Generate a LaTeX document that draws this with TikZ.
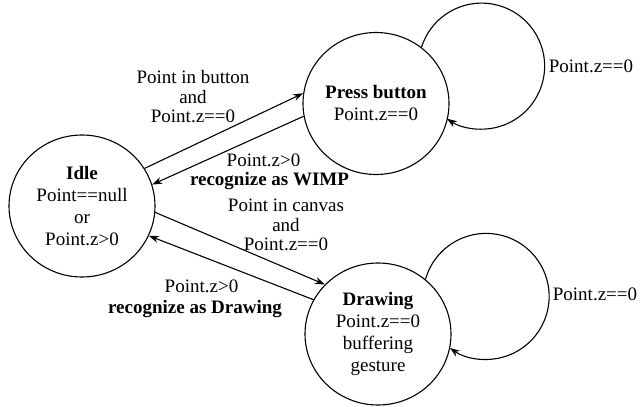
\documentclass[tikz,border=0pt]{standalone}
\usepackage{fontspec}
\setmainfont{Liberation Serif}
\usetikzlibrary{shapes.geometric,arrows.meta}
\begin{document}
\begin{tikzpicture}[x=1pt,y=-1pt,
  state/.style={draw, line width=1.1pt, ellipse, minimum width=146pt, minimum height=142pt, inner sep=0pt, align=center,
    font=\fontsize{19}{22}\selectfont},
  lbl/.style={align=center, inner sep=0pt, font=\fontsize{19}{19.5}\selectfont},
  conn/.style={line width=1.1pt, -{Stealth[length=10pt,width=7pt]}}]
\useasboundingbox (0,0) rectangle (641,407);
\node[state] (idle) at (82,206) {\textbf{Idle}\\Point==null\\or\\Point.z>0};
\node[state] (pb) at (376,103.5) {\textbf{Press button}\\Point.z==0};
\node[state] (dr) at (378,334) {\textbf{Drawing}\\Point.z==0\\buffering\\gesture};
% transitions
\draw[conn] (idle.31.8) -- (pb.172.4);
\draw[conn] (pb.190.8) -- (idle.17.5);
\draw[conn] (idle.-5.5) -- (dr.137);
\draw[conn] (dr.152.7) -- (idle.-24.3);
% self loops
\draw[conn] (pb.51.4) arc[start angle=197.4, end angle=483.4, radius=63];
\draw[conn] (dr.49.8) arc[start angle=195.7, end angle=485.2, radius=63];
% labels
\node[lbl] (l1) at (193,97) {Point in button\\and\\Point.z==0};
\node[lbl, anchor=base] (l2) at (263.5,166.7) {Point.z>0};
\node[lbl, anchor=base] (l3) at (269.5,185) {\textbf{recognize as WIMP}};
\node[lbl] (l4) at (286,225) {Point in canvas\\and\\Point.z==0};
\node[lbl, anchor=base] (l5) at (201.5,292) {Point.z>0};
\node[lbl, anchor=base] (l6) at (195,313) {\textbf{recognize as Drawing}};
\node[lbl, anchor=base] (l7) at (591,72) {Point.z==0};
\node[lbl, anchor=base] (l8) at (595,300) {Point.z==0};
\end{tikzpicture}
\end{document}
